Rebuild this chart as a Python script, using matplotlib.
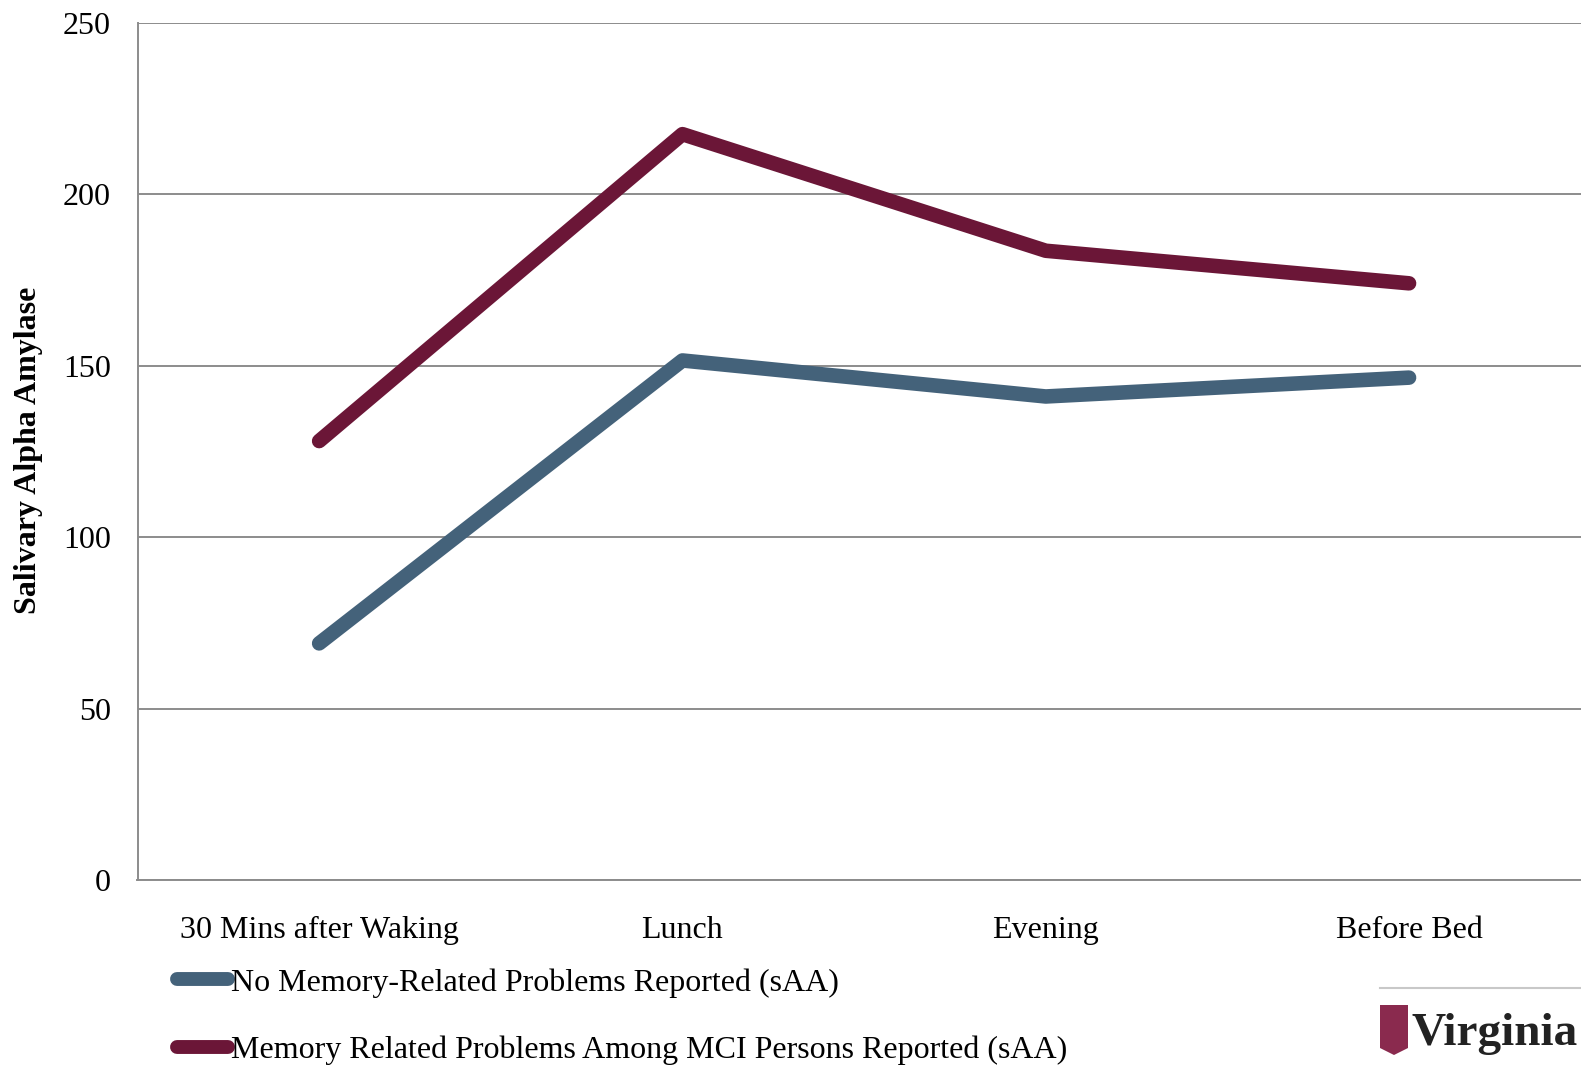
import matplotlib
matplotlib.use("Agg")
import matplotlib.pyplot as plt
from matplotlib.patches import Polygon

plt.rcParams['font.family'] = ['Liberation Serif', 'DejaVu Serif']

times = ["30 Mins after Waking", "Lunch", "Evening", "Before Bed"]
no_memory = [69, 151.5, 141, 146.5]
mci_memory = [128, 217.5, 183.5, 174]
series_labels = ["No Memory-Related Problems Reported (sAA)",
                 "Memory Related Problems Among MCI Persons Reported (sAA)"]
y_ticks = [0, 50, 100, 150, 200, 250]

W, H = 1581, 1066
fig = plt.figure(figsize=(W / 100, H / 100), dpi=100)

# plot area runs off the right edge of the figure
left_px, top_px, bottom_px = 137.5, 22.7, 880
width_px = 4 * 363.3
ax = fig.add_axes([left_px / W, (H - bottom_px) / H, width_px / W, (bottom_px - top_px) / H])

blue = "#44627a"
maroon = "#6b1637"
grid = "#8c8c8c"

x = range(len(times))
ax.plot(x, no_memory, color=blue, lw=10.5, solid_capstyle='round', label=series_labels[0], zorder=3)
ax.plot(x, mci_memory, color=maroon, lw=10.5, solid_capstyle='round', label=series_labels[1], zorder=3)

ax.set_xlim(-0.5, 3.5)
ax.set_ylim(0, 250)
ax.set_yticks(y_ticks)
ax.set_xticks(list(x))
ax.set_xticklabels(times)
ax.tick_params(axis='both', length=0, labelsize=23, colors='black')
ax.tick_params(axis='y', pad=19)
ax.tick_params(axis='x', pad=26)
ax.yaxis.grid(True, color=grid, lw=1.4)
ax.set_axisbelow(True)
for s in ['top', 'right']:
    ax.spines[s].set_visible(False)
for s in ['left', 'bottom']:
    ax.spines[s].set_color(grid)
    ax.spines[s].set_linewidth(1.4)

fig.text(29 / W, 1 - 450 / H, "Salivary Alpha Amylase", rotation=90, fontsize=23,
         fontweight='bold', ha='center', va='center')

leg = fig.legend(loc='upper left', bbox_to_anchor=(177 / W, 1 - 968 / H), frameon=False,
                 fontsize=23, handlelength=1.6, handletextpad=0.08, labelspacing=1.2,
                 borderaxespad=0, borderpad=0)
for ln in leg.get_lines():
    ln.set_linewidth(10)
    ln.set_solid_capstyle('round')

# logo at lower right
fig.add_artist(plt.Line2D([1380 / W, 1.0], [1 - 988 / H] * 2, color="#c8c8c8", lw=1.5))
shield_px = [(1380, 1005), (1408, 1005), (1408, 1048), (1394, 1055), (1380, 1048)]
shield = Polygon([(px, H - py) for px, py in shield_px], closed=True, transform=None,
                 facecolor="#8a2a4e", edgecolor='none')
fig.add_artist(shield)
fig.text(1412 / W, 1 - 1045 / H, "Virginia", fontsize=34, fontweight='bold',
         color="#222222", ha='left', va='baseline')

fig.savefig("out.png", dpi=100)
